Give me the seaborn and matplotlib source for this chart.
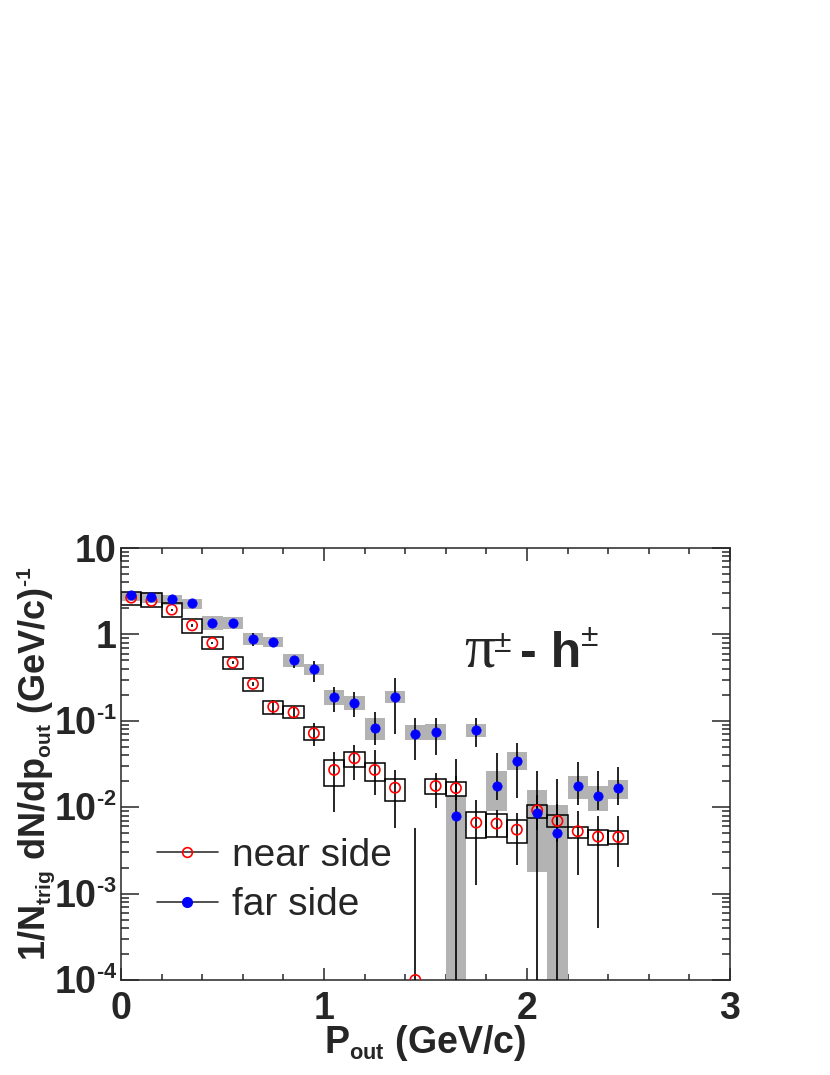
import numpy as np
import pandas as pd
import matplotlib
matplotlib.use("Agg")
import matplotlib.pyplot as plt
import matplotlib._mathtext as mathtext_mod
import seaborn as sns
from matplotlib.lines import Line2D
from matplotlib.ticker import FixedLocator, FixedFormatter, LogLocator, NullFormatter, MultipleLocator

# smaller super/subscripts, closer to the original ROOT look
mathtext_mod.SHRINK_FACTOR = 0.58

# bin centres (GeV/c)
pout = [0.05, 0.15, 0.25, 0.35, 0.45, 0.55, 0.65, 0.75, 0.85, 0.95,
        1.05, 1.15, 1.25, 1.35, 1.45, 1.55, 1.65, 1.75, 1.85, 1.95,
        2.05, 2.15, 2.25, 2.35, 2.45]
bin_width = 0.1

# far side
far_y = [2.82, 2.73, 2.55, 2.29, 1.36, 1.36, 0.89, 0.82, 0.50, 0.40,
         0.187, 0.162, 0.083, 0.190, 0.070, 0.075, 0.0079, 0.078, 0.0176, 0.0345,
         0.0086, 0.0050, 0.0177, 0.0134, 0.0166]
far_stat_lo = [2.74, 2.65, 2.47, 2.21, 1.31, 1.31, 0.74, 0.77, 0.41, 0.284,
               0.127, 0.111, 0.0525, 0.0703, 0.0352, 0.0402, 5e-5, 0.0501, 0.0121, 0.0127,
               5e-5, 5e-5, 0.0106, 0.0093, 0.0106]
far_stat_hi = [2.90, 2.81, 2.63, 2.37, 1.41, 1.41, 1.04, 0.87, 0.55, 0.497,
               0.248, 0.214, 0.127, 0.310, 0.107, 0.107, 0.0358, 0.108, 0.0421, 0.0558,
               0.0264, 0.0210, 0.0336, 0.0262, 0.0294]
far_sys_lo = [2.40, 2.29, 2.19, 1.95, 1.12, 1.155, 0.754, 0.714, 0.419, 0.339,
              0.152, 0.133, 0.060, 0.161, 0.060, 0.060, 5e-5, 0.0649, 0.0090, 0.027,
              0.00178, 5e-5, 0.0124, 0.0090, 0.0124]
far_sys_hi = [3.10, 3.07, 2.86, 2.55, 1.63, 1.59, 1.04, 0.933, 0.593, 0.454,
              0.227, 0.194, 0.108, 0.221, 0.0894, 0.0918, 0.0135, 0.0918, 0.0262, 0.043,
              0.0158, 0.0106, 0.0230, 0.0176, 0.0206]

# near side
near_y = [2.66, 2.44, 1.93, 1.27, 0.794, 0.470, 0.267, 0.145, 0.125, 0.0716,
          0.0270, 0.0368, 0.0270, 0.0168, 1.0e-4, 0.0176, 0.0166, 0.00662, 0.00645, 0.00549,
          0.0092, 0.00692, 0.00526, 0.00456, 0.00452]
near_stat_lo = [2.58, 2.37, 1.87, 1.23, 0.77, 0.455, 0.255, 0.12, 0.105, 0.0511,
                0.00887, 0.0206, 0.0138, 0.0057, 5e-5, 0.0097, 0.012, 0.00126, 0.00452, 0.00214,
                0.0055, 0.0040, 0.00164, 0.000396, 0.00205]
near_stat_hi = [2.74, 2.51, 1.99, 1.31, 0.82, 0.485, 0.28, 0.175, 0.15, 0.0944,
                0.0438, 0.0525, 0.0459, 0.0270, 0.00575, 0.0247, 0.023, 0.0121, 0.0092, 0.0085,
                0.014, 0.011, 0.009, 0.008, 0.008]
near_sys_lo = [2.19, 2.07, 1.60, 1.05, 0.673, 0.398, 0.223, 0.120, 0.108, 0.060,
               0.0176, 0.0294, 0.0201, 0.0119, np.nan, 0.0142, 0.0135, 0.0044, 0.00455, 0.00388,
               0.0075, 0.0059, 0.0044, 0.00365, 0.0037]
near_sys_hi = [3.12, 3.0, 2.29, 1.50, 0.925, 0.552, 0.315, 0.171, 0.148, 0.0855,
               0.0352, 0.0438, 0.0327, 0.0210, np.nan, 0.0212, 0.0196, 0.00887, 0.00834, 0.00711,
               0.0106, 0.0081, 0.0059, 0.00545, 0.0053]

ytick_vals = [1e-4, 1e-3, 1e-2, 1e-1, 1, 10]
ytick_labels = [r"10$^{\text{-4}}$", r"10$^{\text{-3}}$", r"10$^{\text{-2}}$",
                r"10$^{\text{-1}}$", "1", "10"]

df = pd.DataFrame({"pout": pout, "far": far_y, "near": near_y,
                   "far_lo": far_stat_lo, "far_hi": far_stat_hi,
                   "near_lo": near_stat_lo, "near_hi": near_stat_hi,
                   "far_slo": far_sys_lo, "far_shi": far_sys_hi,
                   "near_slo": near_sys_lo, "near_shi": near_sys_hi})

sns.set_style("ticks")
plt.rcParams["font.family"] = ["Liberation Sans", "DejaVu Sans"]
plt.rcParams["font.weight"] = "bold"
plt.rcParams["mathtext.fontset"] = "custom"
plt.rcParams["mathtext.rm"] = "Liberation Sans:bold"
plt.rcParams["mathtext.bf"] = "Liberation Sans:bold"
plt.rcParams["mathtext.it"] = "Liberation Sans:bold"
plt.rcParams["mathtext.default"] = "rm"

fig = plt.figure(figsize=(8.3, 10.75), dpi=100)
ax = fig.add_axes([0.1458, 0.0884, 0.7337, 0.4019])
ax.set_yscale("log")

# systematic boxes
ax.bar(df["pout"], df["far_shi"] - df["far_slo"], bottom=df["far_slo"], width=bin_width,
       color="#b3b3b3", linewidth=0, zorder=1)
nb = df.dropna(subset=["near_slo"])
ax.bar(nb["pout"], nb["near_shi"] - nb["near_slo"], bottom=nb["near_slo"], width=bin_width,
       fill=False, edgecolor="black", linewidth=1.1, zorder=2)

# statistical errors
ax.vlines(df["pout"], df["far_lo"], df["far_hi"], color="black", linewidth=1.2, zorder=3)
ax.vlines(df["pout"], df["near_lo"], df["near_hi"], color="black", linewidth=1.2, zorder=3)

sns.scatterplot(data=df, x="pout", y="near", ax=ax, marker="o", s=55,
                facecolor="none", edgecolor="red", linewidth=1.2, zorder=4)
sns.scatterplot(data=df, x="pout", y="far", ax=ax, marker="o", s=45,
                color="blue", edgecolor="blue", linewidth=0.5, zorder=5)

ax.set_xlim(0, 3)
ax.set_ylim(1e-4, 10)
ax.xaxis.set_major_locator(MultipleLocator(1))
ax.xaxis.set_minor_locator(MultipleLocator(0.2))
ax.yaxis.set_major_locator(FixedLocator(ytick_vals))
ax.yaxis.set_major_formatter(FixedFormatter(ytick_labels))
ax.yaxis.set_minor_locator(LogLocator(base=10, subs=range(2, 10)))
ax.yaxis.set_minor_formatter(NullFormatter())

ax.tick_params(which="both", direction="in", top=True, right=True, width=1.1, labelsize=27)
ax.tick_params(axis="x", which="major", length=9, pad=8)
ax.tick_params(axis="x", which="minor", length=4.5)
ax.tick_params(axis="y", which="major", length=13, pad=3)
ax.tick_params(axis="y", which="minor", length=6)
for s in ax.spines.values():
    s.set_linewidth(1.1)

ax.set_xlabel(r"P$_{out}$ (GeV/c)", fontsize=27, fontweight="bold")
ax.set_ylabel(r"1/N$_{trig}$ dN/dp$_{out}$ (GeV/c)$^{\text{-1}}$", fontsize=26, fontweight="bold")
ax.xaxis.set_label_coords(0.5, -0.1)
ax.yaxis.set_label_coords(-0.105, 0.5)

# pi - h label
ax.text(0.563, 0.7245, "π", transform=ax.transAxes, fontsize=44,
        family="Liberation Serif", fontweight="normal", va="baseline")
ax.text(0.613, 0.759, "±", transform=ax.transAxes, fontsize=23,
        fontweight="normal", va="baseline")
ax.text(0.655, 0.7245, "- h", transform=ax.transAxes, fontsize=36,
        fontweight="bold", va="baseline")
ax.text(0.756, 0.773, "±", transform=ax.transAxes, fontsize=23,
        fontweight="normal", va="baseline")

handles = [Line2D([0], [0], color="#333333", lw=1.2, marker="o", mfc="none", mec="red", ms=7, mew=1.2),
           Line2D([0], [0], color="#333333", lw=1.2, marker="o", mfc="blue", mec="blue", ms=7)]
ax.legend(handles, ["near side", "far side"], loc="center left", bbox_to_anchor=(0.059, 0.23),
          frameon=False, prop={"family": "Liberation Sans", "weight": "normal", "size": 28},
          handlelength=1.57, handletextpad=0.36, borderpad=0, borderaxespad=0, labelspacing=0.34)

fig.savefig("out.png", dpi=100, facecolor="white")
